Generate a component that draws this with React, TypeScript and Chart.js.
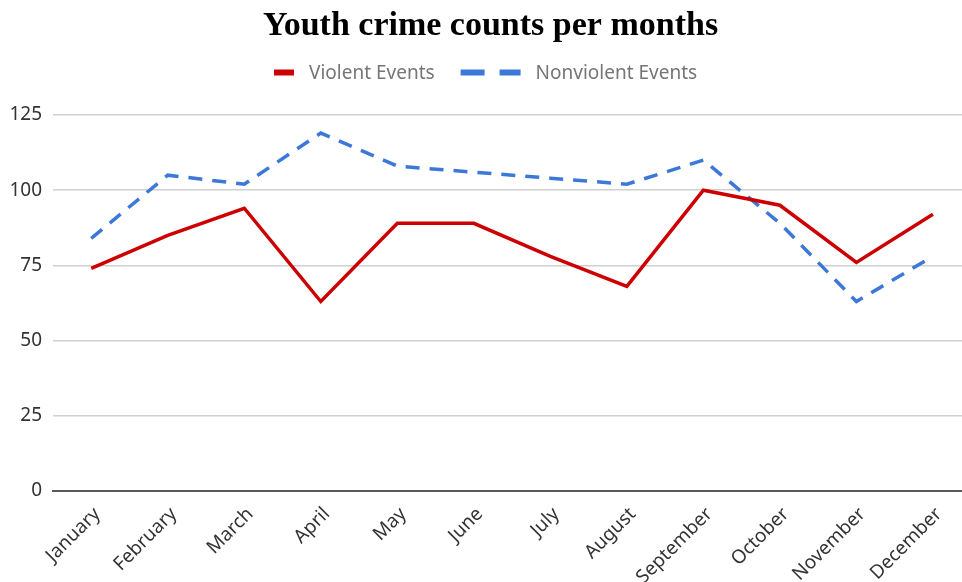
import React, { useEffect, useRef } from "react";
import { Chart, registerables } from "chart.js";

Chart.register(...registerables);

const chartTitle = "Youth crime counts per months";
const months = [
  "January", "February", "March", "April", "May", "June",
  "July", "August", "September", "October", "November", "December",
];
const violentEvents = [74, 85, 94, 63, 89, 89, 78, 68, 100, 95, 76, 92];
const nonviolentEvents = [84, 105, 102, 119, 108, 106, 104, 102, 110, 89, 63, 78];
const seriesNames = ["Violent Events", "Nonviolent Events"];
const yTickValues = [0, 25, 50, 75, 100, 125];

const TICK_FONT = { family: "'Noto Sans', sans-serif", size: 19 };

const headerPlugin = {
  id: "header",
  afterDraw(chart: any, _args: any, opts: any) {
    const ctx = chart.ctx as CanvasRenderingContext2D;
    ctx.save();
    // Title
    ctx.fillStyle = "#000000";
    ctx.font = "bold 34px 'Liberation Serif', serif";
    ctx.textAlign = "center";
    ctx.textBaseline = "alphabetic";
    ctx.fillText(opts.title, opts.titleX, opts.titleBaseline);

    // Legend
    ctx.font = "19px 'Noto Sans', sans-serif";
    ctx.textAlign = "left";
    let x = opts.legendX;
    chart.data.datasets.forEach((ds: any, i: number) => {
      const w = opts.sampleWidths[i];
      ctx.beginPath();
      ctx.strokeStyle = ds.borderColor;
      ctx.lineWidth = 6;
      ctx.lineCap = "butt";
      ctx.setLineDash(i === 1 ? [24, 15] : []);
      ctx.moveTo(x, opts.legendLineY);
      ctx.lineTo(x + w, opts.legendLineY);
      ctx.stroke();
      ctx.setLineDash([]);
      x += w + 15;
      ctx.fillStyle = "#767676";
      ctx.fillText(ds.label, x, opts.legendBaseline);
      x += ctx.measureText(ds.label).width + 26;
    });
    ctx.restore();
  },
};

export default function App() {
  const canvasRef = useRef<HTMLCanvasElement | null>(null);

  useEffect(() => {
    if (!canvasRef.current) return;
    const chart = new Chart(canvasRef.current, {
      type: "line",
      data: {
        datasets: [
          {
            label: seriesNames[0],
            data: violentEvents.map((v, i) => ({ x: i, y: v })),
            borderColor: "#cc0000",
            backgroundColor: "#cc0000",
            borderWidth: 3.5,
            pointRadius: 0,
            tension: 0,
          },
          {
            label: seriesNames[1],
            data: nonviolentEvents.map((v, i) => ({ x: i, y: v })),
            borderColor: "#3c78d8",
            backgroundColor: "#3c78d8",
            borderWidth: 3.5,
            borderDash: [14, 10],
            pointRadius: 0,
            tension: 0,
          },
        ],
      },
      options: {
        responsive: false,
        animation: false,
        events: [],
        layout: { padding: { top: 115, left: 0, right: 0, bottom: 0 } },
        plugins: {
          legend: { display: false },
          title: { display: false },
          tooltip: { enabled: false },
          header: {
            title: chartTitle,
            titleX: 490.5,
            titleBaseline: 35,
            legendX: 274,
            legendLineY: 72.5,
            legendBaseline: 79,
            sampleWidths: [20, 60],
          },
        } as any,
        scales: {
          x: {
            type: "linear",
            min: -0.5,
            max: 11.38,
            afterFit: (scale: any) => {
              scale.height = 91;
            },
            afterBuildTicks: (scale: any) => {
              scale.ticks = months.map((_, i) => ({ value: i }));
            },
            ticks: {
              autoSkip: false,
              maxRotation: 45,
              minRotation: 45,
              padding: 12,
              labelOffset: 6,
              color: "#333333",
              font: TICK_FONT,
              callback: (v: any) => months[v] ?? "",
            },
            grid: { display: false, drawTicks: false },
            border: { display: true, color: "#595959", width: 2 },
          },
          y: {
            min: 0,
            max: 125,
            afterFit: (scale: any) => {
              scale.width = 53;
            },
            afterBuildTicks: (scale: any) => {
              scale.ticks = yTickValues.map((v) => ({ value: v }));
            },
            ticks: {
              padding: 11,
              color: "#333333",
              font: TICK_FONT,
            },
            grid: {
              drawTicks: false,
              color: (c: any) => (c.tick && c.tick.value === 0 ? "#595959" : "#d0d0d0"),
              lineWidth: (c: any) => (c.tick && c.tick.value === 0 ? 2 : 1.5),
            },
            border: { display: false },
          },
        },
      },
      plugins: [headerPlugin],
    });
    return () => chart.destroy();
  }, []);

  return (
    <div style={{ position: "absolute", left: 0, top: 0, width: 962, height: 582, background: "#ffffff" }}>
      <canvas ref={canvasRef} width={962} height={582} />
    </div>
  );
}
